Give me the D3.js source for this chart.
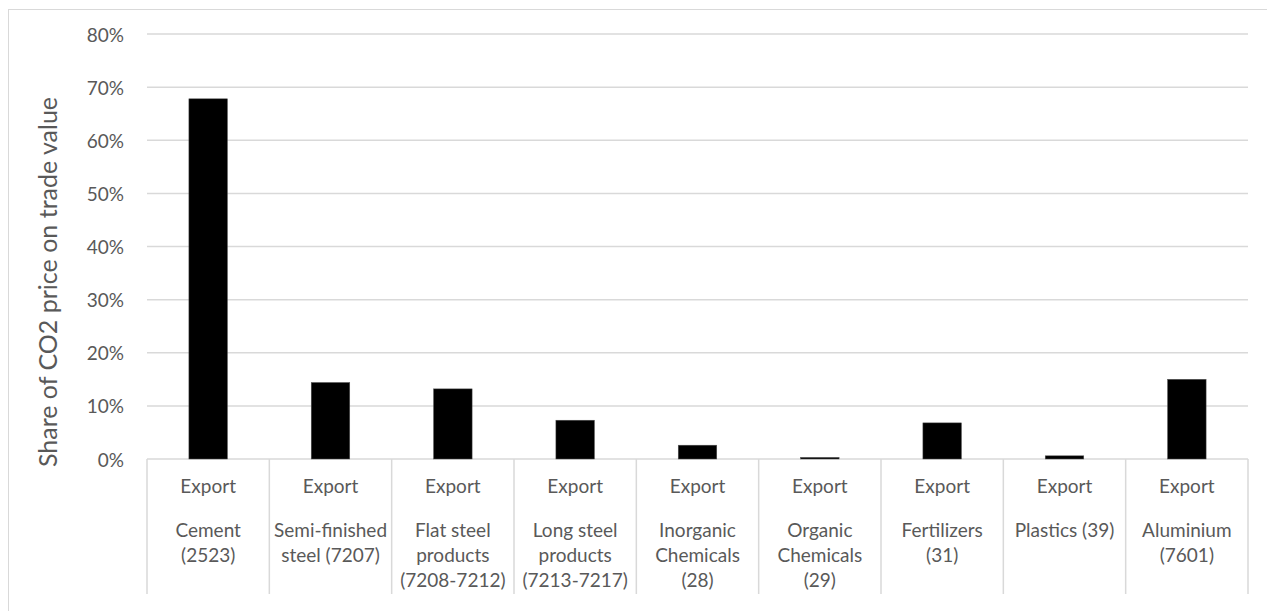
<!DOCTYPE html>
<html>
<head>
<meta charset="utf-8">
<script src="https://cdn.jsdelivr.net/npm/d3@7"></script>
<style>
  body { margin: 0; background: #fff; }
  svg text { font-family: Lato, "Open Sans", sans-serif; fill: #595959; }
</style>
</head>
<body>
<div id="container"></div>
<script>
const categories = ["Cement", "Semi-finished steel", "Flat steel products", "Long steel products",
  "Inorganic Chemicals", "Organic Chemicals", "Fertilizers", "Plastics", "Aluminium"];
const groupLabel = "Export";
const categoryLines = [
  ["Cement", "(2523)"],
  ["Semi-finished", "steel (7207)"],
  ["Flat steel", "products", "(7208-7212)"],
  ["Long steel", "products", "(7213-7217)"],
  ["Inorganic", "Chemicals", "(28)"],
  ["Organic", "Chemicals", "(29)"],
  ["Fertilizers", "(31)"],
  ["Plastics (39)"],
  ["Aluminium", "(7601)"]
];
const shares = [67.8, 14.4, 13.2, 7.3, 2.6, 0.3, 6.8, 0.6, 15.0];
const yTicks = [0, 10, 20, 30, 40, 50, 60, 70, 80];
const yTitle = "Share of CO2 price on trade value";

const width = 1267, height = 611;
const plotL = 147, plotR = 1248, plotT = 34, plotB = 459;

const svg = d3.select("#container").append("svg")
  .attr("width", width)
  .attr("height", height);

// chart frame (only top and left edges are in view)
svg.append("rect")
  .attr("x", 8.5).attr("y", 9.5)
  .attr("width", width + 20).attr("height", height + 20)
  .attr("fill", "none")
  .attr("stroke", "#d9d9d9")
  .attr("stroke-width", 1);

const x = d3.scaleBand().domain(categories).range([plotL, plotR]).paddingInner(0).paddingOuter(0);
const y = d3.scaleLinear().domain([0, 80]).range([plotB, plotT]);

// gridlines
svg.append("g")
  .selectAll("line")
  .data(yTicks)
  .join("line")
  .attr("x1", plotL).attr("x2", plotR)
  .attr("y1", d => y(d)).attr("y2", d => y(d))
  .attr("stroke", "#d9d9d9")
  .attr("stroke-width", 1.5);

// y tick labels
svg.append("g")
  .selectAll("text")
  .data(yTicks)
  .join("text")
  .attr("x", 124)
  .attr("y", d => y(d))
  .attr("text-anchor", "end")
  .attr("dominant-baseline", "central")
  .attr("font-size", "19px")
  .text(d => d + "%");

// y title
svg.append("text")
  .attr("transform", "translate(57,282) rotate(-90)")
  .attr("text-anchor", "middle")
  .attr("font-size", "25px")
  .text(yTitle);

// bars
const barW = x.bandwidth() * 0.315;
svg.append("g")
  .selectAll("rect")
  .data(shares)
  .join("rect")
  .attr("x", (d, i) => x(categories[i]) + (x.bandwidth() - barW) / 2)
  .attr("y", d => y(d))
  .attr("width", barW)
  .attr("height", d => y(0) - y(d))
  .attr("fill", "#000")
  .attr("stroke", "#555")
  .attr("stroke-width", 0.5);

// category separators
const seps = categories.map(c => x(c)).concat([plotR]);
svg.append("g")
  .selectAll("line")
  .data(seps)
  .join("line")
  .attr("x1", d => d).attr("x2", d => d)
  .attr("y1", plotB).attr("y2", 594)
  .attr("stroke", "#d9d9d9")
  .attr("stroke-width", 1.5);

// category labels
const lab = svg.append("g")
  .selectAll("g")
  .data(categories)
  .join("g")
  .attr("transform", d => `translate(${x(d) + x.bandwidth() / 2},0)`);

lab.append("text")
  .attr("y", 493)
  .attr("text-anchor", "middle")
  .attr("font-size", "19px")
  .text(groupLabel);

lab.each(function(d, i) {
  d3.select(this).selectAll("text.cat")
    .data(categoryLines[i])
    .join("text")
    .attr("class", "cat")
    .attr("y", (t, j) => 537 + j * 25)
    .attr("text-anchor", "middle")
    .attr("font-size", "19px")
    .text(t => t);
});
</script>
</body>
</html>
